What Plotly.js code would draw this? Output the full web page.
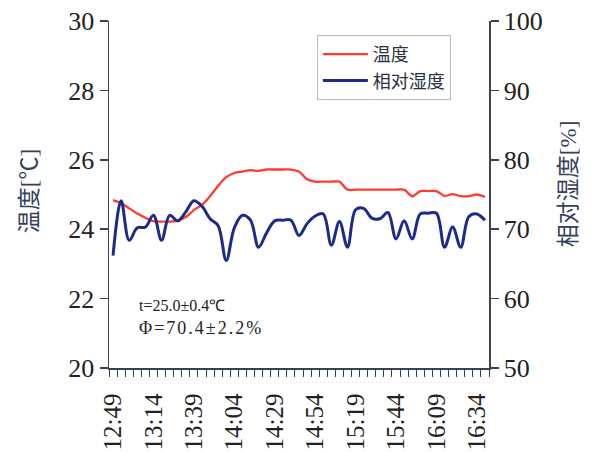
<!DOCTYPE html>
<html>
<head>
<meta charset="utf-8">
<script src="https://cdn.plot.ly/plotly-3.0.1.min.js"></script>
<style>html,body{margin:0;padding:0;background:#fff;}#chart{width:597px;height:452px;}</style>
</head>
<body>
<div id="chart"></div>
<script>
// 5-minute samples from 12:49 to 16:39
const times = ["12:49","12:54","12:59","13:04","13:09","13:14","13:19","13:24","13:29","13:34",
  "13:39","13:44","13:49","13:54","13:59","14:04","14:09","14:14","14:19","14:24",
  "14:29","14:34","14:39","14:44","14:49","14:54","14:59","15:04","15:09","15:14",
  "15:19","15:24","15:29","15:34","15:39","15:44","15:49","15:54","15:59","16:04",
  "16:09","16:14","16:19","16:24","16:29","16:34","16:39"];
const temperature = [24.84,24.75,24.6,24.45,24.33,24.23,24.22,24.22,24.25,24.35,
  24.55,24.7,24.95,25.25,25.5,25.62,25.66,25.7,25.68,25.72,
  25.72,25.72,25.72,25.66,25.44,25.37,25.37,25.37,25.37,25.14,
  25.14,25.14,25.14,25.14,25.14,25.14,25.14,24.95,25.1,25.1,
  25.1,24.96,25.01,24.95,24.95,25.0,24.93];
const humidity = [66.2,74.1,68.4,70.2,70.3,72.0,68.4,72.0,71.2,72.5,
  74.1,73.3,71.5,70.5,65.5,70.2,72.0,71.3,67.4,69.5,
  71.2,71.3,71.3,69.1,70.8,71.9,72.2,67.7,71.1,67.4,
  72.8,73.0,71.6,71.5,72.4,68.6,71.2,68.6,72.2,72.3,
  72.3,67.4,70.3,67.4,71.8,72.2,71.3];
const tickLabels = ["12:49","13:14","13:39","14:04","14:29","14:54","15:19","15:44","16:09","16:34"];
const yTempTicks = [20,22,24,26,28,30];
const yRhTicks = [50,60,70,80,90,100];

const day = "2000-01-01 ";
const xs = times.map(t => day + t + ":00");
const axisColor = "#3a4256";
const serif = "Liberation Serif, Times New Roman, serif";
const cjk = "Liberation Serif, Noto Sans CJK SC, serif";

const traces = [
  {x: xs, y: temperature, name: "温度", type: "scatter", mode: "lines",
   line: {color: "#ff3b30", width: 2.3, shape: "spline", smoothing: 0.8}, yaxis: "y"},
  {x: xs, y: humidity, name: "相对湿度", type: "scatter", mode: "lines",
   line: {color: "#1c2a8a", width: 3, shape: "spline", smoothing: 1}, yaxis: "y2"}
];

const layout = {
  width: 597, height: 452,
  margin: {l: 109, r: 108, t: 21, b: 84},
  paper_bgcolor: "#fff", plot_bgcolor: "#fff",
  showlegend: true,
  legend: {x: 0.547, y: 0.96, xanchor: "left", yanchor: "top",
    bgcolor: "#fff", bordercolor: "#bbbbbb", borderwidth: 1,
    font: {family: "Noto Sans CJK SC", size: 18, color: "#2a3040"},
    itemwidth: 45, tracegroupgap: 4},
  xaxis: {
    type: "date",
    range: [day + "12:46:30", day + "16:41:30"],
    tickvals: tickLabels.map(t => day + t + ":00"),
    ticktext: tickLabels,
    tickangle: -90,
    ticks: "",
    ticklabelstandoff: 14,
    tickfont: {family: serif, size: 25, color: "#222"},
    minor: {ticks: "outside", ticklen: 7, tickwidth: 1, tickcolor: axisColor,
      tick0: day + "12:46:30", dtick: 300000, showgrid: false},
    showline: true, linecolor: axisColor, linewidth: 1.5,
    showgrid: false, zeroline: false, fixedrange: true
  },
  yaxis: {
    range: [20, 30], tickvals: yTempTicks, ticks: "outside", ticklen: 8,
    tickcolor: axisColor, tickwidth: 1.5,
    tickfont: {family: serif, size: 26, color: "#222"},
    showline: true, linecolor: axisColor, linewidth: 1.5,
    showgrid: false, zeroline: false
  },
  yaxis2: {
    range: [50, 100], tickvals: yRhTicks, overlaying: "y", side: "right",
    ticks: "outside", ticklen: 8, tickcolor: axisColor, tickwidth: 1.5,
    tickfont: {family: serif, size: 26, color: "#222"},
    showline: true, linecolor: axisColor, linewidth: 1.5,
    showgrid: false, zeroline: false
  },
  annotations: [
    {xref: "paper", yref: "paper", x: -0.21, y: 0.51, xanchor: "center", yanchor: "middle",
     text: "温度[℃]", textangle: -90,
     showarrow: false, font: {family: cjk, size: 23, color: "#34405a"}},
    {xref: "paper", yref: "paper", x: 1.208, y: 0.53, xanchor: "center", yanchor: "middle",
     text: "相对湿度[%]", textangle: -90,
     showarrow: false, font: {family: cjk, size: 23, color: "#34405a"}},
    {xref: "paper", yref: "paper", x: 0.074, y: 0.18, xanchor: "left", yanchor: "middle",
     text: "t=25.0±0.4℃",
     showarrow: false, font: {family: serif, size: 16, color: "#222"}},
    {xref: "paper", yref: "paper", x: 0.074, y: 0.115, xanchor: "left", yanchor: "middle",
     text: "<span style=\"letter-spacing:2px\">Φ=70.4±2.2%</span>",
     showarrow: false, font: {family: serif, size: 18, color: "#222"}}
  ]
};

Plotly.newPlot("chart", traces, layout, {staticPlot: true});
</script>
</body>
</html>
